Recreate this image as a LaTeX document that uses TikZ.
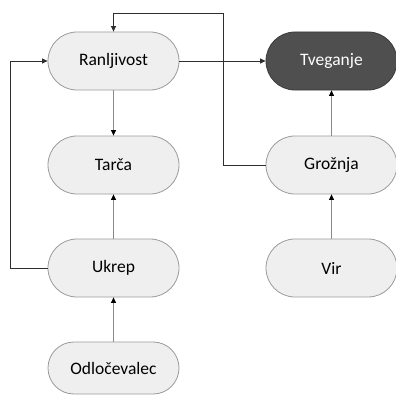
\documentclass[tikz,border=0pt]{standalone}
\usepackage{fontspec}
\setmainfont{Carlito}
\usetikzlibrary{arrows.meta}
\definecolor{boxfill}{HTML}{EFEFEF}
\definecolor{boxline}{HTML}{9A9A9A}
\definecolor{darkfill}{HTML}{4F4F4F}
\definecolor{darkline}{HTML}{3A3A3A}
\definecolor{wire}{HTML}{2E2E2E}
\definecolor{softwire}{HTML}{8A8A8A}
\tikzset{
  pill/.style={draw=boxline, line width=0.8pt, fill=boxfill, rectangle,
    rounded corners=28.9pt, minimum width=131pt, minimum height=58pt,
    inner sep=0pt, text=black, font=\fontsize{17.5}{20}\selectfont},
  darkpill/.style={pill, draw=darkline, fill=darkfill, text=white},
  link/.style={draw=wire, line width=0.8pt, -{Triangle[length=5.5pt,width=5pt]}},
  softlink/.style={link, draw=softwire, -{Triangle[length=5.5pt,width=5pt,fill=black,color=black]}}
}
\begin{document}
\begin{tikzpicture}[x=1pt,y=-1pt]
\useasboundingbox (0,0) rectangle (396,396);
\begin{scope}
\clip (0,0) rectangle (396,396);
\node[pill] (ran) at (113.5,61) {Ranljivost};
\node[darkpill] (tve) at (331.5,61) {Tveganje};
\node[pill] (tar) at (113.5,165) {Tarča};
\node[pill] (gro) at (331.5,165) {Grožnja};
\node[pill] (ukr) at (113.5,268) {Ukrep};
\node[pill] (vir) at (331.5,268) {Vir};
\node[pill, minimum height=52pt, rounded corners=25.9pt] (odl) at (113.5,368) {Odločevalec};
\end{scope}
\coordinate (gl) at (223,165);
\coordinate (gt) at (223,13);
\coordinate (rt) at (113.5,13);
\coordinate (ul) at (10,268);
\coordinate (ut) at (10,61);

\draw[link] (ran) -- (tve);
\draw[softlink] (ran) -- (tar);
\draw[softlink] (ukr) -- (tar);
\draw[softlink] (odl) -- (ukr);
\draw[softlink] (gro) -- (tve);
\draw[softlink] (vir) -- (gro);
\draw[link] (gro.west) -- (gl) -- (gt) -- (rt) -- (ran.north);
\draw[link] (ukr.west) -- (ul) -- (ut) -- (ran.west);
\end{tikzpicture}
\end{document}
